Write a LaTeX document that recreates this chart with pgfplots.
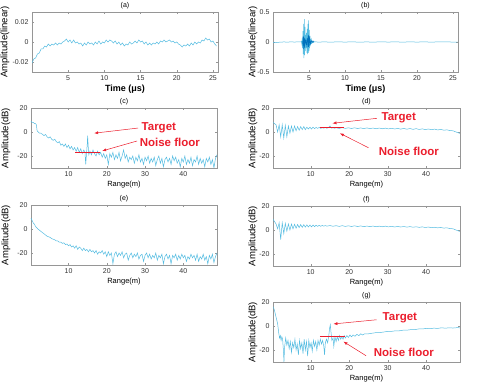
\documentclass[border=0pt]{standalone}
\usepackage{fontspec}
\setmainfont{Liberation Sans}
\usepackage{pgfplots}
\pgfplotsset{compat=1.18}
\usetikzlibrary{arrows.meta}

\definecolor{sig}{RGB}{85,188,225}
\definecolor{sigdark}{RGB}{0,114,189}
\definecolor{redmark}{RGB}{235,30,45}
\definecolor{frame}{RGB}{150,150,150}

\tikzset{
  note/.style={anchor=west, text=redmark, font=\bfseries\fontsize{11.5}{12}\selectfont},
  arr/.style={draw=redmark, line width=0.5pt, -{Latex[length=4pt,width=3pt]}},
}
\pgfplotsset{
  panel/.style={
    scale only axis, width=186pt, height=60pt, anchor=north west,
    axis line style={frame}, tick style={frame}, tick align=inside,
    major tick length=2pt, scaled ticks=false,
    ticklabel style={font=\fontsize{7}{8}\selectfont, text=black!80},
    /pgf/number format/assume math mode=true,
    title style={font=\fontsize{7}{8}\selectfont, yshift=-6.5pt},
    ylabel style={font=\fontsize{9.5}{10}\selectfont, anchor=center},
    xlabel style={font=\fontsize{7.5}{8}\selectfont, yshift=2pt},
    every axis plot/.append style={line width=0.5pt},
  },
  rng/.style={panel, xmin=0.2, xmax=48.8, ymin=-30, ymax=20,
    xtick={10,20,30,40}, ytick={-20,0,20}, yticklabels={-20,0,20},
    xlabel={Range(m)}, ylabel={Amplitude(dB)}},
  tm/.style={panel, xmin=0, xmax=25.7, xtick={5,10,15,20,25},
    xlabel={\bfseries Time (μs)},
    xlabel style={font=\fontsize{9}{10}\selectfont, yshift=0pt},
    ylabel={Amplitude(linear)}},
  floor/.style={color=redmark, line width=1pt},
}

\begin{document}
\begin{tikzpicture}
\useasboundingbox (0,0) rectangle (485pt,-387pt);

% (a) time domain, noise only
\begin{axis}[tm, at={(32pt,-12pt)}, title={(a)}, ymin=-0.03, ymax=0.03,
  ytick={-0.02,0,0.02}, yticklabels={-0.02,0,0.02},
  ylabel style={at={(axis description cs:-0.145,0.5)}}]
\addplot[sig] coordinates {
(0.00,-0.021) (0.25,-0.017) (0.50,-0.016) (0.75,-0.012) (1.00,-0.011) (1.25,-0.007)
(1.50,-0.007) (1.75,-0.004) (2.00,-0.005) (2.25,-0.002) (2.50,-0.004) (2.75,-0.002)
(3.00,-0.003) (3.25,-0.001) (3.50,-0.003) (3.75,-0.001) (4.00,-0.002) (4.25,0.000)
(4.50,0.001) (4.75,0.003) (5.00,0.000) (5.25,0.002) (5.50,-0.001) (5.75,0.002)
(6.00,-0.001) (6.25,0.000) (6.50,-0.002) (6.75,-0.001) (7.00,-0.004) (7.25,-0.001)
(7.50,-0.003) (7.75,0.000) (8.00,-0.002) (8.25,-0.001) (8.50,-0.003) (8.75,0.000)
(9.00,-0.002) (9.25,0.001) (9.50,-0.002) (9.75,0.000) (10.00,-0.001) (10.25,0.002)
(10.50,0.000) (10.75,0.002) (11.00,0.001) (11.25,-0.001) (11.50,0.001) (11.75,-0.002)
(12.00,0.000) (12.25,-0.003) (12.50,-0.001) (12.75,-0.004) (13.00,-0.002) (13.25,-0.003)
(13.50,0.000) (13.75,-0.002) (14.00,-0.001) (14.25,0.001) (14.50,-0.001) (14.75,0.002)
(15.00,0.000) (15.25,0.001) (15.50,-0.002) (15.75,0.000) (16.00,-0.003) (16.25,-0.001)
(16.50,-0.003) (16.75,-0.001) (17.00,-0.002) (17.25,0.000) (17.50,-0.002) (17.75,0.001)
(18.00,0.000) (18.25,0.002) (18.50,0.000) (18.75,0.001) (19.00,0.002) (19.25,0.000)
(19.50,0.001) (19.75,-0.001) (20.00,0.000) (20.25,-0.002) (20.50,-0.003) (20.75,-0.005)
(21.00,-0.003) (21.25,-0.004) (21.50,-0.002) (21.75,-0.004) (22.00,-0.001) (22.25,-0.003)
(22.50,0.000) (22.75,-0.002) (23.00,0.000) (23.25,-0.001) (23.50,0.002) (23.75,0.001)
(24.00,0.004) (24.25,0.002) (24.50,0.003) (24.75,0.000) (25.00,0.001) (25.25,-0.002)
(25.50,-0.004)
};
\end{axis}

% (b) time domain, with target echo
\begin{axis}[tm, at={(273pt,-12pt)}, width=185pt, title={(b)}, ymin=-0.5, ymax=0.5,
  ytick={-0.5,0,0.5}, yticklabels={-0.5,0,0.5},
  ylabel style={at={(axis description cs:-0.108,0.5)}}]
\addplot[sig] coordinates {
(0,-0.008) (0.3,-0.010) (0.6,-0.006) (1.0,-0.003) (1.5,0.001) (2.0,-0.002) (2.5,0.002)
(3.0,-0.001) (3.5,0.002) (3.9,0.000)
(3.95,0.01) (4.00,-0.03) (4.05,0.06) (4.10,-0.10) (4.15,0.18) (4.20,-0.20) (4.25,0.30)
(4.30,-0.27) (4.35,0.38) (4.40,-0.22) (4.45,0.25) (4.50,-0.15) (4.55,0.12) (4.60,-0.10)
(4.65,0.15) (4.70,-0.18) (4.75,0.22) (4.80,-0.20) (4.85,0.30) (4.90,-0.18) (4.95,0.36)
(5.00,-0.15) (5.05,0.20) (5.10,-0.10) (5.15,0.10) (5.20,-0.06) (5.25,0.05) (5.30,-0.03)
(5.35,0.03) (5.40,-0.02) (5.50,0.01) (5.60,-0.01) (5.80,0.005)
(6.3,-0.003) (7,0.002) (8,-0.002) (9,0.002) (10,-0.001) (11,0.002) (12,-0.002)
(13,0.001) (14,-0.002) (15,0.003) (16,-0.001) (17,0.002) (18,-0.002) (19,0.002)
(20,-0.001) (21,0.002) (22,-0.002) (23,0.002) (24,0.004) (25,-0.002) (25.6,0.000)
};
\addplot[sigdark] coordinates {
(4.10,0.02) (4.15,-0.06) (4.20,0.10) (4.25,-0.12) (4.30,0.08) (4.35,-0.10) (4.40,0.06)
(4.45,-0.04) (4.55,0.03) (4.65,-0.05) (4.75,0.07) (4.85,-0.09) (4.90,0.12) (4.95,-0.08)
(5.00,0.10) (5.05,-0.06) (5.10,0.05) (5.20,-0.03) (5.30,0.02) (5.45,-0.01) (5.55,0.02)
(5.70,0.00)
};
\end{axis}

% (c)
\begin{axis}[rng, at={(31pt,-108pt)}, title={(c)},
  ylabel style={at={(axis description cs:-0.135,0.5)}}]
\addplot[sig] coordinates {
(0.2,9) (0.5,8) (0.8,8) (1.1,7) (1.4,7) (1.6,6) (1.8,1) (2.1,0) (2.4,-1) (2.8,-1)
(3.2,-2) (3.6,-3) (4.0,-2) (4.4,-4) (4.8,-5) (5.2,-4) (5.6,-6) (6.0,-7) (6.4,-6)
(6.8,-8) (7.2,-9) (7.6,-8) (8.0,-11) (8.4,-10) (8.8,-12) (9.2,-10) (9.6,-13)
(10.0,-11) (10.4,-14) (10.8,-12) (11.2,-15) (11.6,-13) (12.0,-16) (12.4,-13)
(12.8,-17) (13.2,-14) (13.6,-18) (14.0,-15) (14.3,-17) (14.5,-27) (14.7,-18)
(14.9,-10) (15.0,-3) (15.15,-12) (15.3,-19) (15.6,-16) (16.0,-19) (16.4,-15)
(16.8,-18) (17.2,-20) (17.6,-16) (18.0,-19) (18.4,-17) (18.8,-21) (19.2,-18)
(19.6,-22) (20.0,-19) (20.4,-27) (20.8,-18) (21.2,-21) (21.6,-17) (22.0,-23)
(22.4,-19) (22.8,-22) (23.2,-17) (23.6,-24) (24.0,-20) (24.4,-15) (24.8,-22)
(25.2,-19) (25.6,-25) (26.0,-21) (26.4,-23) (26.8,-20) (27.2,-26) (27.6,-21)
(28.0,-24) (28.4,-19) (28.8,-25) (29.2,-22) (29.6,-27) (30.0,-21) (30.4,-24)
(30.8,-20) (31.2,-26) (31.6,-22) (32.0,-25) (32.4,-21) (32.8,-28) (33.2,-23)
(33.6,-20) (34.0,-26) (34.4,-22) (34.8,-29) (35.2,-23) (35.6,-21) (36.0,-25)
(36.4,-22) (36.8,-27) (37.2,-20) (37.6,-24) (38.0,-21) (38.4,-26) (38.8,-23)
(39.2,-29) (39.6,-22) (40.0,-25) (40.4,-20) (40.8,-27) (41.2,-23) (41.6,-26)
(42.0,-21) (42.4,-28) (42.8,-23) (43.2,-25) (43.6,-20) (44.0,-27) (44.4,-22)
(44.8,-26) (45.2,-23) (45.6,-29) (46.0,-22) (46.4,-25) (46.8,-21) (47.2,-27)
(47.6,-23) (48.0,-30) (48.4,-22) (48.8,-19)
};
\addplot[floor] coordinates {(11.7,-16.9) (18.3,-16.9)};
\draw[arr] (axis cs:28.2,3.3) -- (axis cs:16.7,-1);
\draw[arr] (axis cs:27.9,-7.5) -- (axis cs:18.8,-15.8);
\node[note] at (axis cs:28.2,3.3) {Target};
\node[note] at (axis cs:27.7,-8.9) {Noise floor};
\end{axis}

% (d)
\begin{axis}[rng, at={(273pt,-108pt)}, width=187pt, title={(d)},
  ylabel style={at={(axis description cs:-0.108,0.5)}}]
\addplot[sig] coordinates {
(0.2,8) (0.6,7) (1.0,6) (1.4,0) (1.8,6) (2.2,-4) (2.6,6) (3.0,-5) (3.4,5.5) (3.8,-4)
(4.2,5) (4.6,-1) (5.0,5) (5.4,0) (5.8,5) (6.2,1) (6.6,4.5) (7.0,1.5) (7.4,4.5)
(7.8,2) (8.2,4.5) (8.6,2) (9.0,4) (9.4,2.5) (9.8,4) (10.2,2.5) (10.6,4) (11.0,2.8)
(11.4,3.8) (11.8,3) (12.2,3.8) (12.6,3) (13.0,3.6) (13.4,3.2) (13.8,3.7) (14.2,3.1)
(14.6,3.6) (15.0,5) (15.4,3.2) (15.8,3.6) (16.2,3.1) (16.6,3.5) (17.4,3.0) (18.2,3.6)
(19.0,3.0) (19.8,3.5) (20.6,2.9) (21.4,3.5) (22.2,2.9) (23.0,3.4) (23.8,2.8)
(24.6,3.4) (25.4,2.8) (26.2,3.3) (27.0,2.7) (27.8,3.3) (28.6,2.7) (29.4,3.2)
(30.2,2.6) (31.0,3.1) (31.8,2.5) (32.6,3.0) (33.4,2.4) (34.2,3.0) (35.0,2.3)
(35.8,2.9) (36.6,2.2) (37.4,2.8) (38.2,2.1) (39.0,2.6) (39.8,2.0) (40.6,2.5)
(41.4,1.9) (42.2,2.4) (43.0,1.7) (43.8,2.2) (44.6,1.5) (45.4,1.8) (46.2,1.2)
(47.0,1.0) (47.6,0.2) (48.2,-0.5) (48.8,-1.2)
};
\addplot[floor] coordinates {(12.4,3.6) (18.7,3.6)};
\draw[arr] (axis cs:27.2,11.4) -- (axis cs:15.65,7.25);
\draw[arr] (axis cs:25.0,-13.1) -- (axis cs:17.6,-1.1);
\node[note] at (axis cs:27.5,11.9) {Target};
\node[note] at (axis cs:26.8,-16.4) {Noise floor};
\end{axis}

% (e)
\begin{axis}[rng, at={(31pt,-205pt)}, title={(e)},
  ylabel style={at={(axis description cs:-0.135,0.5)}}]
\addplot[sig] coordinates {
(0.2,9) (0.5,7) (0.8,5) (1.1,4) (1.4,2) (1.7,1) (2.0,0) (2.4,-1) (2.8,-2) (3.2,-3)
(3.6,-4) (4.0,-5) (4.4,-6) (4.8,-6.5) (5.2,-7) (5.6,-8) (6.0,-8.5) (6.4,-9) (6.8,-10)
(7.2,-10) (7.6,-11) (8.0,-11) (8.4,-12) (8.8,-11.5) (9.2,-13) (9.6,-12.5) (10.0,-14)
(10.4,-13) (10.8,-15) (11.2,-14) (11.6,-16) (12.0,-14) (12.4,-17) (12.8,-15)
(13.2,-16) (13.6,-18) (14.0,-16) (14.4,-18) (14.8,-17) (15.2,-19) (15.6,-17)
(16.0,-19) (16.4,-18) (16.8,-20) (17.2,-18) (17.6,-21) (18.0,-19) (18.4,-20)
(18.8,-18) (19.2,-21) (19.6,-19) (20.0,-23) (20.4,-19) (20.8,-22) (21.2,-20)
(21.6,-29) (22.0,-21) (22.4,-19) (22.8,-23) (23.2,-20) (23.6,-22) (24.0,-19)
(24.4,-24) (24.8,-21) (25.2,-20) (25.6,-26) (26.0,-22) (26.4,-20) (26.8,-24)
(27.2,-21) (27.6,-23) (28.0,-20) (28.4,-25) (28.8,-22) (29.2,-21) (29.6,-27)
(30.0,-22) (30.4,-20) (30.8,-24) (31.2,-21) (31.6,-25) (32.0,-22) (32.4,-24)
(32.8,-20) (33.2,-26) (33.6,-22) (34.0,-24) (34.4,-21) (34.8,-29) (35.2,-23)
(35.6,-21) (36.0,-25) (36.4,-22) (36.8,-29) (37.2,-22) (37.6,-24) (38.0,-21)
(38.4,-26) (38.8,-22) (39.2,-25) (39.6,-21) (40.0,-24) (40.4,-22) (40.8,-27)
(41.2,-23) (41.6,-25) (42.0,-21) (42.4,-24) (42.8,-22) (43.2,-26) (43.6,-21)
(44.0,-27) (44.4,-23) (44.8,-25) (45.2,-21) (45.6,-26) (46.0,-23) (46.4,-29)
(46.8,-22) (47.2,-25) (47.6,-21) (48.0,-28) (48.4,-23) (48.8,-20)
};
\end{axis}

% (f)
\begin{axis}[rng, at={(273pt,-206pt)}, width=187pt, title={(f)},
  ylabel style={at={(axis description cs:-0.108,0.5)}}]
\addplot[sig] coordinates {
(0.2,9) (0.6,7) (1.0,5) (1.4,1) (1.8,6) (2.2,-8) (2.6,6) (3.0,-3) (3.4,5.5) (3.8,-1)
(4.2,5) (4.6,0) (5.0,5) (5.4,1) (5.8,4.8) (6.2,1.5) (6.6,4.6) (7.0,2) (7.4,4.5)
(7.8,2.2) (8.2,4.4) (8.6,2.4) (9.0,4.3) (9.4,2.5) (9.8,4.2) (10.2,2.6) (10.6,4.1)
(11.0,2.8) (11.4,4.0) (11.8,3.0) (12.2,3.9) (12.6,3.1) (13.0,3.8) (13.4,3.2)
(13.8,3.7) (14.2,3.2) (15.0,3.7) (15.8,3.1) (16.6,3.6) (17.4,3.0) (18.2,3.6)
(19.0,3.0) (19.8,3.5) (20.6,2.9) (21.4,3.5) (22.2,2.9) (23.0,3.4) (23.8,2.8)
(24.6,3.3) (25.4,2.8) (26.2,3.3) (27.0,2.7) (27.8,3.2) (28.6,2.7) (29.4,3.2)
(30.2,2.6) (31.0,3.1) (31.8,2.5) (32.6,3.0) (33.4,2.5) (34.2,2.9) (35.0,2.4)
(35.8,2.8) (36.6,2.3) (37.4,2.7) (38.2,2.2) (39.0,2.6) (39.8,2.1) (40.6,2.5)
(41.4,1.9) (42.2,2.3) (43.0,1.8) (43.8,2.1) (44.6,1.6) (45.4,1.8) (46.2,1.2)
(47.0,1.0) (47.6,0.2) (48.2,-0.6) (48.8,-1.2)
};
\end{axis}

% (g)
\begin{axis}[rng, at={(273pt,-302pt)}, width=187pt, title={(g)},
  ylabel style={at={(axis description cs:-0.108,0.5)}}]
\addplot[sig] coordinates {
(0.2,16) (0.5,14) (0.8,10) (1.1,6) (1.4,2) (1.7,-6) (1.9,-10) (2.1,-8) (2.3,-12)
(2.5,-9) (2.7,-11) (2.9,-20) (3.05,-30) (3.2,-18) (3.5,-10) (3.8,-16) (4.1,-12)
(4.4,-19) (4.7,-13) (5.0,-22) (5.3,-14) (5.6,-18) (5.9,-11) (6.2,-20) (6.5,-15)
(6.8,-24) (7.1,-12) (7.4,-19) (7.7,-14) (8.0,-23) (8.3,-11) (8.6,-20) (8.9,-13)
(9.2,-25) (9.5,-12) (9.8,-18) (10.1,-14) (10.4,-21) (10.7,-12) (11.0,-17) (11.3,-13)
(11.6,-20) (11.9,-12) (12.2,-16) (12.5,-11) (12.8,-15) (13.1,-12) (13.4,-17)
(13.6,-24) (13.8,-14) (14.1,-11) (14.4,-14) (14.7,-8) (14.9,-2) (15.1,1) (15.3,-6)
(15.5,-12) (15.8,-10) (16.0,-17) (16.3,-9) (16.6,-13) (16.9,-9) (17.2,-12)
(17.5,-8) (17.8,-11) (18.1,-9) (18.4,-11) (18.7,-8) (19.0,-10) (19.4,-8)
(19.8,-9.5) (20.2,-7.5) (20.6,-9) (21.0,-7.5) (21.5,-8.5) (22.0,-7) (22.5,-8)
(23.0,-6.5) (23.5,-7.5) (24.0,-6.5) (25.0,-6.5) (26.0,-6) (27.0,-5.5) (28.0,-5.5)
(29.0,-5) (30.0,-4.5) (31.0,-4.5) (32.0,-4) (33.0,-4) (34.0,-3.5) (35.0,-3.5)
(36.0,-3) (37.0,-3) (38.0,-2.5) (39.0,-2.5) (40.0,-2) (41.0,-2.2) (42.0,-1.8)
(43.0,-2) (44.0,-1.5) (45.0,-1.8) (46.0,-1.5) (47.0,-1.7) (48.0,-1.4) (48.8,-1.5)
};
\addplot[floor] coordinates {(12.4,-8.9) (18.9,-8.9)};
\draw[arr] (axis cs:27.1,5.2) -- (axis cs:15.9,1.7);
\draw[arr] (axis cs:24.4,-24.8) -- (axis cs:18.5,-13.0);
\node[note] at (axis cs:27.8,6.6) {Target};
\node[note] at (axis cs:25.5,-22.0) {Noise floor};
\end{axis}
\end{tikzpicture}
\end{document}
